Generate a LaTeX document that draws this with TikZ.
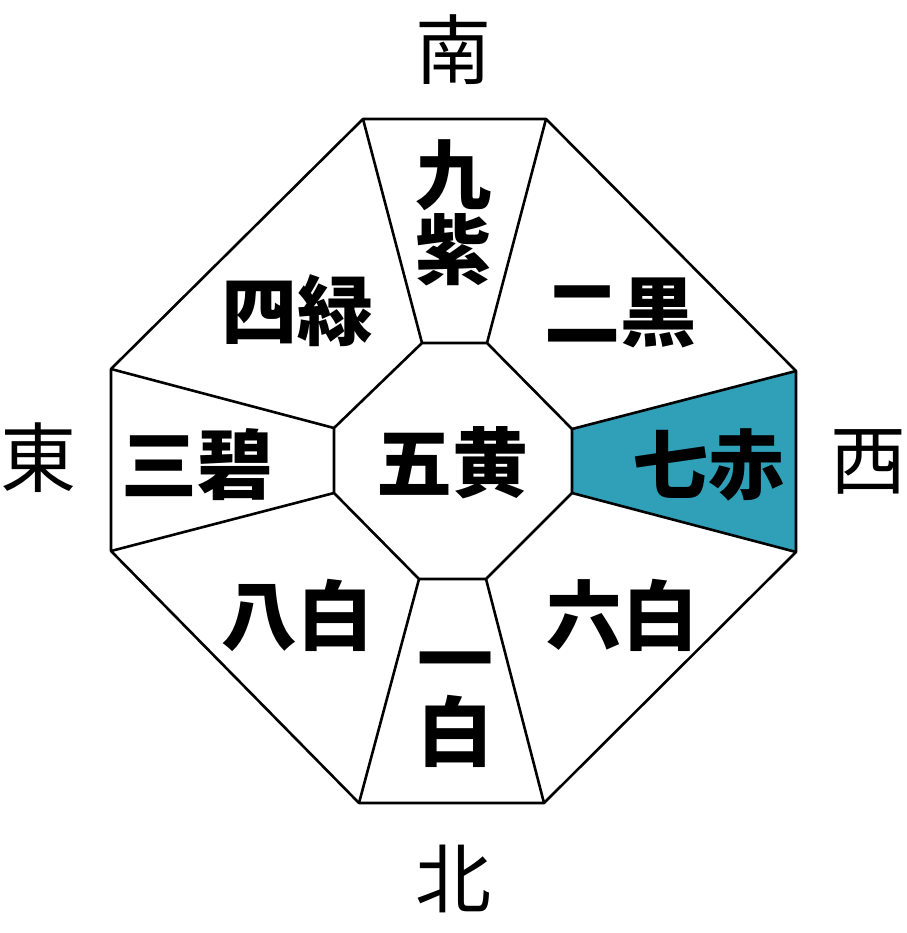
\documentclass[tikz,border=0pt]{standalone}
\usepackage{fontspec}
\newfontfamily\cjk{Noto Sans CJK JP}
\usetikzlibrary{calc,positioning}
\definecolor{sekiteal}{RGB}{48,160,185}

\begin{document}
\begin{tikzpicture}[x=1pt, y=-1pt,
  edge/.style={draw=black, line width=2.6pt, line join=round},
  star/.style={font=\cjk\bfseries\fontsize{76}{75}\selectfont, inner sep=0pt, align=center},
  dir/.style={font=\cjk\fontsize{76}{75}\selectfont, inner sep=0pt}]
\useasboundingbox (0,0) rectangle (906,933);
% outer octagon
\coordinate (o1) at (363,119);
\coordinate (o2) at (546,119);
\coordinate (o3) at (796,371);
\coordinate (o4) at (796,552);
\coordinate (o5) at (544,803);
\coordinate (o6) at (359,803);
\coordinate (o7) at (111,551);
\coordinate (o8) at (111,369);
% inner octagon
\coordinate (i1) at (422,343);
\coordinate (i2) at (487,343);
\coordinate (i3) at (572,429);
\coordinate (i4) at (572,493);
\coordinate (i5) at (486,579);
\coordinate (i6) at (419,579);
\coordinate (i7) at (334,493);
\coordinate (i8) at (334,428);

\fill[sekiteal] (i3) -- (o3) -- (o4) -- (i4) -- cycle;
\draw[edge] (o1) -- (o2) -- (o3) -- (o4) -- (o5) -- (o6) -- (o7) -- (o8) -- cycle;
\draw[edge] (i1) -- (i2) -- (i3) -- (i4) -- (i5) -- (i6) -- (i7) -- (i8) -- cycle;
\foreach \k in {1,...,8}
  \draw[edge] (o\k) -- (i\k);

% stars
\node[star] (kyu)  at (453,213) {九\\紫};
\node[star] (shi)  at (297,311) {四緑};
\node[star] (ji)   at (620,313) {二黒};
\node[star] (san)  at (197,465) {三碧};
\node[star] (go)   at (452,463) {五黄};
\node[star] (shichi) at (708,465) {七赤};
\node[star] (hachi) at (297,615) {八白};
\node[star] (roku) at (622,615) {六白};
\node[star] (haku) at (455,731) {白};
\node[star] (ichi) at (455,670) {一};

% directions
\node[dir] (minami) at (453,50) {南};
\node[dir] (higashi) at (38,458) {東};
\node[dir] (nishi) at (868,462) {西};
\node[dir] (kita) at (453,879) {北};
\end{tikzpicture}
\end{document}
